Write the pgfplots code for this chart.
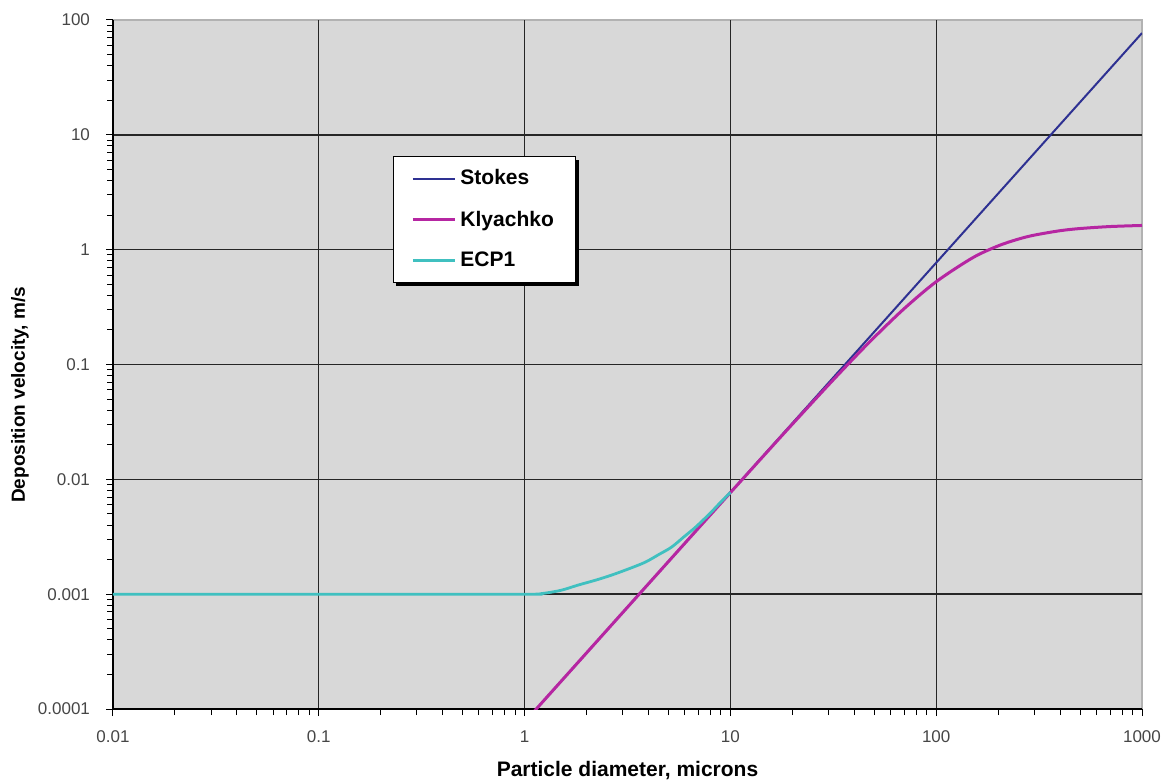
\documentclass[border=0pt]{standalone}
\usepackage{fontspec}
\setmainfont{Liberation Sans}
\usepackage{pgfplots}
\pgfplotsset{compat=1.18}
\usetikzlibrary{shadows}
\definecolor{bgc}{RGB}{216,216,216}
\definecolor{stokesc}{RGB}{46,49,146}
\definecolor{klyc}{RGB}{182,38,162}
\definecolor{ecpc}{RGB}{64,192,192}
\definecolor{tickc}{RGB}{70,70,70}
\begin{document}
\begin{tikzpicture}
\begin{axis}[
  name=ax,
  scale only axis,
  width=514.5pt, height=344.5pt,
  xmode=log, ymode=log,
  xmin=0.01, xmax=1000, ymin=0.0001, ymax=100,
  axis lines=left,
  axis line style={-, black, line width=0.6pt},
  every outer x axis line/.append style={-},
  every outer y axis line/.append style={-},
  axis background/.style={fill=bgc, draw=black!30, line width=0.6pt},
  xtick={0.1,1,10,100},
  xticklabels={0.1,1,10,100},
  extra x ticks={0.01,1000},
  extra x tick labels={0.01,1000},
  extra x tick style={grid=none},
  ytick={0.001,0.01,0.1,1,10},
  yticklabels={0.001,0.01,0.1,1,10},
  extra y ticks={0.0001,100},
  extra y tick labels={0.0001,100},
  extra y tick style={grid=none},
  minor xtick={0.02,0.03,0.04,0.05,0.06,0.07,0.08,0.09,
    0.2,0.3,0.4,0.5,0.6,0.7,0.8,0.9,
    2,3,4,5,6,7,8,9,20,30,40,50,60,70,80,90,200,300,400,500,600,700,800,900},
  minor ytick={0.0002,0.0003,0.0004,0.0005,0.0006,0.0007,0.0008,0.0009,
    0.002,0.003,0.004,0.005,0.006,0.007,0.008,0.009,
    0.02,0.03,0.04,0.05,0.06,0.07,0.08,0.09,
    0.2,0.3,0.4,0.5,0.6,0.7,0.8,0.9,
    2,3,4,5,6,7,8,9,20,30,40,50,60,70,80,90},
  tick align=outside,
  major tick length=3.5pt, minor tick length=3pt,
  every tick/.style={black, line width=0.5pt},
  xmajorgrids, ymajorgrids,
  major grid style={black!85, line width=0.7pt},
  /pgf/number format/assume math mode=true,
  tick label style={font=\fontsize{8.5}{10}\selectfont, text=tickc},
  xticklabel style={yshift=-4pt},
  yticklabel style={xshift=-4.5pt},
  xlabel={Particle diameter, microns},
  ylabel={Deposition velocity, m/s},
  xlabel style={at={(axis description cs:0.5,0)}, anchor=center, yshift=-31pt, font=\fontsize{10.5}{12}\selectfont\bfseries},
  ylabel style={at={([xshift=-46.5pt]axis description cs:0,0.456)}, anchor=center, rotate=0, font=\fontsize{9.5}{11}\selectfont\bfseries},
  legend style={at={(0.272,0.8026)}, anchor=north west, draw=black, fill=white,
    line width=0.6pt,
    font=\fontsize{10.5}{12}\selectfont\bfseries,
    inner xsep=9pt, inner ysep=4.5pt, row sep=7.5pt,
    drop shadow={shadow xshift=1.5pt, shadow yshift=-1.5pt, fill=black, opacity=1}},
  legend cell align=left,
  legend image code/.code={\begin{scope}[#1]\pgfpathmoveto{\pgfpointorigin}\pgfpathlineto{\pgfqpoint{21pt}{0pt}}\pgfusepath{stroke}\end{scope}},
]
\addplot[stokesc, line width=1pt] coordinates {
(1.14,1.0e-4) (2,3.08e-4) (5,1.925e-3) (10,7.7e-3) (20,0.0308) (50,0.1925)
(100,0.77) (200,3.08) (500,19.25) (1000,77)};
\addlegendentry{Stokes}
\addplot[klyc, line width=1.5pt, smooth] coordinates {
(1.1,9.32e-5) (1.5,1.733e-4) (2,3.08e-4) (3,6.93e-4) (5,1.924e-3) (7,3.764e-3)
(10,7.66e-3) (15,0.01714) (20,0.03023) (30,0.0665) (40,0.1147) (50,0.1725)
(70,0.3074) (100,0.526) (150,0.848) (200,1.079) (250,1.234) (300,1.339)
(400,1.463) (500,1.528) (700,1.590) (1000,1.625)};
\addlegendentry{Klyachko}
\addplot[ecpc, line width=1.4pt, smooth] coordinates {
(0.01,0.001) (0.1,0.001) (1,0.001) (1.2,0.00101) (1.5,0.00108) (1.82,0.0012)
(2.2,0.00132) (2.63,0.00146) (3.2,0.00166) (3.86,0.0019) (4.5,0.00222)
(5.18,0.00257) (6,0.0032) (6.78,0.00384) (8,0.0051) (9,0.00637) (10,0.0077)};
\addlegendentry{ECP1}
\end{axis}
\pgfresetboundingbox
\path[use as bounding box] ([xshift=-56.5pt,yshift=-36.5pt]ax.south west) rectangle ([xshift=15.5pt,yshift=10pt]ax.north east);
\end{tikzpicture}
\end{document}
